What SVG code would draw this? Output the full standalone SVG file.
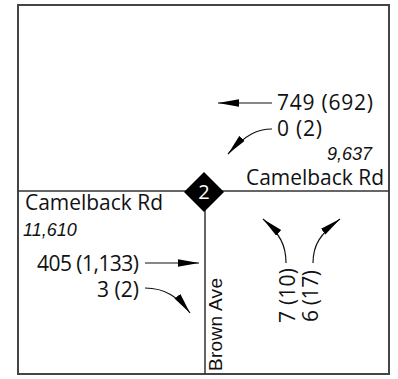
<svg xmlns="http://www.w3.org/2000/svg" width="398" height="379" viewBox="0 0 398 379">
<defs>
<style>
.lbl{font-family:"Open Sans","Noto Sans",sans-serif;font-size:21px;fill:#111}
.vol{font-family:"Liberation Sans",Arial,sans-serif;font-style:italic;font-size:18px;fill:#111}
.st{font-family:"Liberation Sans",Arial,sans-serif;font-size:19px;fill:#111}
.road{stroke:#333;stroke-width:1.5;fill:none}
.arr{stroke:#111;stroke-width:1.2;fill:none;marker-end:url(#ah)}
</style>
<marker id="ah" markerUnits="userSpaceOnUse" markerWidth="22" markerHeight="9" refX="21" refY="4.5" orient="auto">
<path d="M0,0.8 L21,4.5 L0,8.2 z" fill="#000"/>
</marker>
</defs>
<rect x="18" y="5" width="371" height="369" fill="#fff" stroke="#444" stroke-width="2"/>
<g id="roads">
<line class="road" x1="18" y1="191" x2="389" y2="191"/>
<line class="road" x1="205" y1="191" x2="205" y2="374"/>
</g>
<g id="connectors">
<path class="arr" d="M272,103 L218,103"/>
<path class="arr" d="M272,129 C258,129 246,134 228,154"/>
<path class="arr" d="M145,263 L199,263"/>
<path class="arr" d="M145,288 C165,288 178,297 190,313"/>
<path class="arr" d="M286,263 C286,245 280,234 263,219"/>
<path class="arr" d="M313,263 C313,245 320,234 340,219"/>
</g>
<g id="intersection">
<path d="M204,172 L224,192 L204,212 L184,192 z" fill="#000"/>
<text x="204" y="199" text-anchor="middle" font-family="Open Sans, Noto Sans, sans-serif" font-size="20" fill="#fff">2</text>
</g>
<g id="east-labels">
<text class="lbl" x="277" y="110" textLength="96" lengthAdjust="spacing">749 (692)</text>
<text class="lbl" x="277" y="136" textLength="45" lengthAdjust="spacing">0 (2)</text>
<text class="vol" x="327" y="160">9,637</text>
<text class="lbl" x="246" y="185" textLength="138" lengthAdjust="spacingAndGlyphs">Camelback Rd</text>
</g>
<g id="west-labels">
<text class="lbl" x="25" y="210" textLength="138" lengthAdjust="spacingAndGlyphs">Camelback Rd</text>
<text class="vol" x="23" y="236">11,610</text>
<text class="lbl" x="37" y="271" textLength="102" lengthAdjust="spacing">405 (1,133)</text>
<text class="lbl" x="97" y="297" textLength="42" lengthAdjust="spacing">3 (2)</text>
</g>
<g id="south-labels">
<text class="st" transform="translate(222,371) rotate(-90)" textLength="93" lengthAdjust="spacing">Brown Ave</text>
<text class="lbl" transform="translate(295,323) rotate(-90)" textLength="55" lengthAdjust="spacing">7 (10)</text>
<text class="lbl" transform="translate(318,322) rotate(-90)" textLength="52" lengthAdjust="spacing">6 (17)</text>
</g>
</svg>
